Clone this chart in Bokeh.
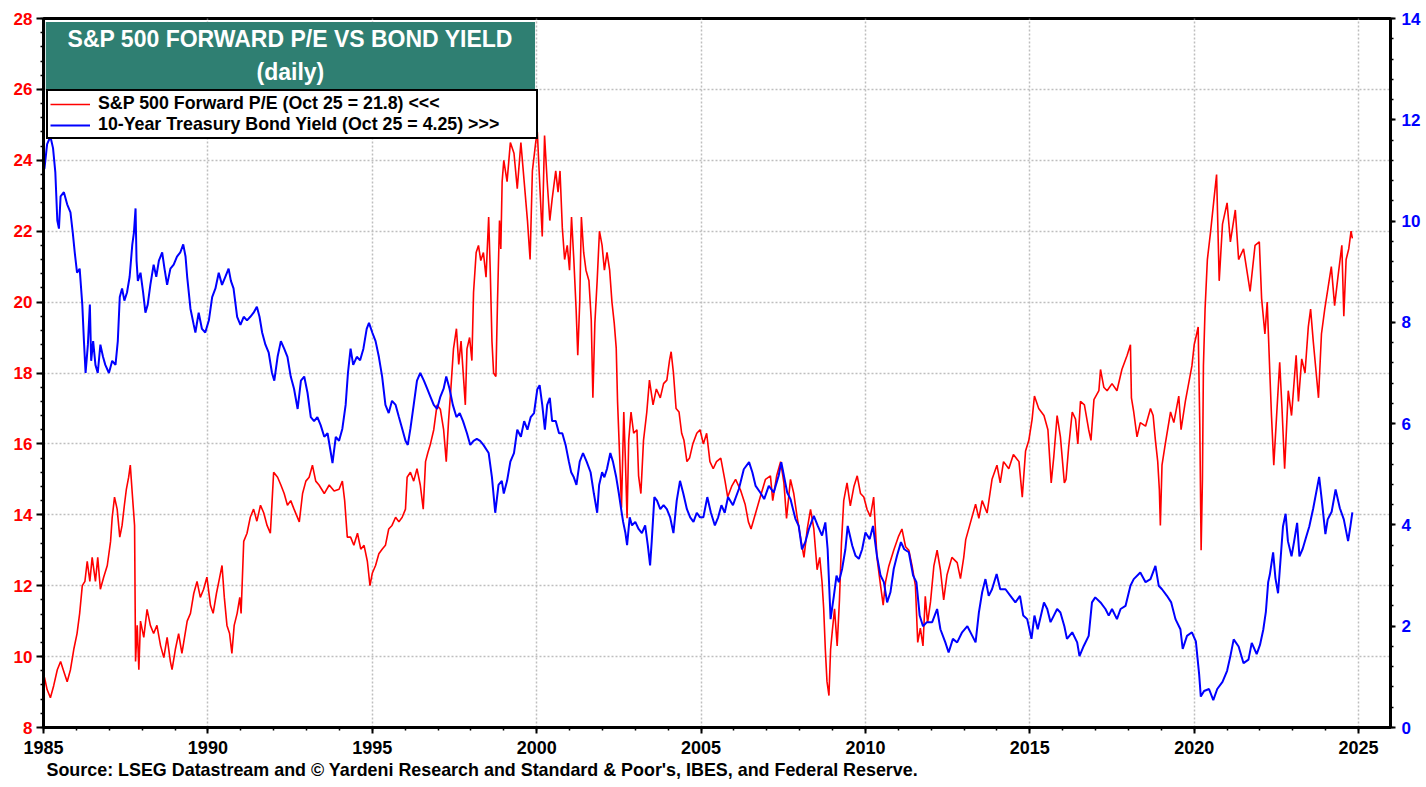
from bokeh.plotting import figure
from bokeh.models import (Range1d, LinearAxis, SingleIntervalTicker, Legend, LegendItem,
                          BoxAnnotation, Label, Title)
from bokeh.embed import file_html
from bokeh.resources import INLINE

# ---------------- data ----------------
title_line1 = "S&P 500 FORWARD P/E VS BOND YIELD"
title_line2 = "(daily)"
pe_label = "S&P 500 Forward P/E (Oct 25 = 21.8) <<<"
yld_label = "10-Year Treasury Bond Yield (Oct 25 = 4.25) >>>"
source_text = "Source: LSEG Datastream and \u00a9 Yardeni Research and Standard & Poor's, IBES, and Federal Reserve."

# S&P 500 forward P/E (left axis): (year, value)
pe_data = [
    (1985.00, 9.30), (1985.03, 9.41), (1985.11, 9.07), (1985.21, 8.84), (1985.31, 9.18), (1985.42, 9.63),
    (1985.52, 9.86), (1985.60, 9.63), (1985.72, 9.29), (1985.82, 9.63), (1985.92, 10.2), (1986.02, 10.65),
    (1986.10, 11.22), (1986.18, 12.0), (1986.26, 12.12), (1986.33, 12.69), (1986.41, 12.12), (1986.48, 12.8),
    (1986.58, 12.12), (1986.65, 12.8), (1986.73, 11.9), (1986.83, 12.24), (1986.94, 12.57), (1987.04, 13.25),
    (1987.09, 13.93), (1987.16, 14.5), (1987.24, 14.16), (1987.32, 13.37), (1987.39, 13.7), (1987.46, 14.27),
    (1987.52, 14.72), (1987.59, 15.06), (1987.64, 15.4), (1987.70, 14.6), (1987.77, 13.7), (1987.80, 9.86),
    (1987.85, 10.88), (1987.90, 9.63), (1987.95, 11.0), (1988.05, 10.54), (1988.15, 11.33), (1988.25, 10.88),
    (1988.35, 10.65), (1988.45, 10.88), (1988.56, 10.31), (1988.66, 9.97), (1988.76, 10.54), (1988.86, 9.86),
    (1988.91, 9.63), (1989.01, 10.2), (1989.11, 10.65), (1989.21, 10.09), (1989.37, 11.0), (1989.47, 11.22),
    (1989.57, 11.78), (1989.67, 12.12), (1989.77, 11.67), (1989.87, 11.9), (1989.97, 12.24), (1990.08, 11.44),
    (1990.16, 11.22), (1990.26, 11.78), (1990.36, 12.24), (1990.43, 12.57), (1990.50, 11.67), (1990.58, 10.88),
    (1990.66, 10.65), (1990.73, 10.09), (1990.80, 10.88), (1990.89, 11.22), (1990.97, 11.67), (1991.01, 11.22),
    (1991.09, 13.25), (1991.19, 13.48), (1991.29, 13.93), (1991.39, 14.16), (1991.49, 13.82), (1991.60, 14.27),
    (1991.70, 14.05), (1991.80, 13.7), (1991.90, 13.48), (1992.00, 15.2), (1992.12, 15.06), (1992.22, 14.84),
    (1992.32, 14.6), (1992.42, 14.27), (1992.52, 14.4), (1992.62, 14.16), (1992.78, 13.8), (1992.88, 14.6),
    (1992.98, 14.95), (1993.08, 15.06), (1993.18, 15.4), (1993.28, 14.95), (1993.38, 14.84), (1993.54, 14.6),
    (1993.69, 14.84), (1993.84, 14.67), (1993.99, 14.72), (1994.09, 14.95), (1994.16, 14.4), (1994.24, 13.37),
    (1994.34, 13.37), (1994.44, 13.14), (1994.55, 13.48), (1994.65, 13.03), (1994.75, 13.14), (1994.85, 12.69),
    (1994.93, 12.0), (1995.00, 12.35), (1995.10, 12.57), (1995.20, 12.9), (1995.30, 13.03), (1995.40, 13.14),
    (1995.50, 13.6), (1995.60, 13.7), (1995.71, 13.93), (1995.81, 13.8), (1995.91, 13.93), (1996.01, 14.16),
    (1996.06, 15.06), (1996.16, 15.2), (1996.26, 14.95), (1996.36, 15.3), (1996.46, 14.84), (1996.55, 14.16),
    (1996.62, 15.5), (1996.69, 15.75), (1996.77, 16.0), (1996.87, 16.4), (1996.97, 17.1), (1997.07, 16.98),
    (1997.17, 16.4), (1997.25, 15.5), (1997.32, 16.65), (1997.39, 17.55), (1997.47, 18.68), (1997.56, 19.25),
    (1997.63, 18.24), (1997.70, 18.9), (1997.78, 17.8), (1997.83, 17.1), (1997.88, 18.68), (1997.96, 19.0),
    (1998.03, 18.35), (1998.08, 20.27), (1998.16, 21.4), (1998.23, 21.6), (1998.30, 21.17), (1998.38, 21.4),
    (1998.46, 20.7), (1998.54, 22.4), (1998.59, 20.83), (1998.64, 18.9), (1998.69, 18.0), (1998.76, 17.9),
    (1998.81, 20.05), (1998.87, 22.3), (1998.91, 21.5), (1998.95, 23.4), (1999.00, 24.0), (1999.10, 23.4),
    (1999.20, 24.5), (1999.31, 24.2), (1999.41, 23.2), (1999.52, 24.5), (1999.62, 23.4), (1999.72, 22.3),
    (1999.80, 21.2), (1999.87, 23.7), (1999.97, 24.5), (2000.02, 24.8), (2000.10, 23.2), (2000.17, 21.85),
    (2000.24, 24.7), (2000.32, 23.4), (2000.40, 22.3), (2000.47, 22.9), (2000.58, 23.7), (2000.65, 23.1),
    (2000.71, 23.7), (2000.78, 22.1), (2000.85, 21.2), (2000.93, 21.6), (2001.00, 20.9), (2001.06, 22.4),
    (2001.13, 21.2), (2001.20, 19.8), (2001.25, 18.5), (2001.31, 20.0), (2001.36, 22.4), (2001.43, 21.4),
    (2001.50, 20.9), (2001.59, 20.6), (2001.66, 19.5), (2001.71, 17.3), (2001.77, 19.4), (2001.84, 20.6),
    (2001.91, 22.0), (2001.99, 21.6), (2002.06, 20.9), (2002.14, 21.4), (2002.22, 20.9), (2002.29, 20.0),
    (2002.36, 19.4), (2002.42, 18.7), (2002.46, 17.2), (2002.53, 15.5), (2002.58, 14.2), (2002.65, 16.9),
    (2002.70, 15.5), (2002.75, 13.9), (2002.80, 16.1), (2002.87, 16.9), (2002.95, 16.3), (2003.05, 16.4),
    (2003.10, 15.1), (2003.17, 14.6), (2003.25, 16.1), (2003.35, 16.9), (2003.43, 17.8), (2003.54, 17.1),
    (2003.64, 17.55), (2003.76, 17.3), (2003.86, 17.7), (2003.96, 17.8), (2004.04, 18.35), (2004.09, 18.6),
    (2004.16, 18.0), (2004.24, 17.0), (2004.33, 16.9), (2004.41, 16.3), (2004.48, 16.1), (2004.57, 15.5),
    (2004.65, 15.6), (2004.75, 16.0), (2004.87, 16.3), (2004.97, 16.4), (2005.07, 16.0), (2005.17, 16.3),
    (2005.27, 15.5), (2005.37, 15.3), (2005.47, 15.5), (2005.60, 15.6), (2005.73, 14.95), (2005.81, 14.5),
    (2005.93, 14.8), (2006.05, 15.0), (2006.20, 14.7), (2006.34, 14.3), (2006.44, 13.8), (2006.52, 13.6),
    (2006.66, 14.05), (2006.80, 14.5), (2006.96, 15.0), (2007.11, 15.1), (2007.18, 14.4), (2007.30, 15.1),
    (2007.42, 15.5), (2007.52, 14.9), (2007.60, 13.9), (2007.72, 15.0), (2007.82, 14.6), (2007.92, 13.95),
    (2008.02, 13.4), (2008.13, 12.8), (2008.23, 13.6), (2008.33, 14.15), (2008.43, 13.6), (2008.53, 12.45),
    (2008.61, 12.8), (2008.68, 12.1), (2008.73, 11.35), (2008.78, 10.2), (2008.83, 9.3), (2008.89, 8.9),
    (2008.94, 10.2), (2008.99, 10.7), (2009.06, 11.35), (2009.14, 10.3), (2009.21, 11.6), (2009.27, 13.2),
    (2009.34, 14.4), (2009.44, 14.9), (2009.54, 14.25), (2009.65, 14.8), (2009.75, 15.1), (2009.85, 14.6),
    (2009.95, 14.5), (2010.05, 14.15), (2010.15, 13.95), (2010.25, 14.5), (2010.35, 12.8), (2010.46, 12.0),
    (2010.54, 11.45), (2010.61, 12.1), (2010.71, 12.55), (2010.86, 13.0), (2011.01, 13.4), (2011.11, 13.6),
    (2011.22, 13.1), (2011.32, 13.0), (2011.42, 12.55), (2011.52, 12.0), (2011.59, 10.4), (2011.67, 10.8),
    (2011.75, 10.3), (2011.82, 11.7), (2011.89, 10.95), (2011.98, 11.55), (2012.08, 12.55), (2012.18, 13.0),
    (2012.28, 12.45), (2012.38, 11.6), (2012.48, 12.3), (2012.63, 12.8), (2012.79, 12.65), (2012.89, 12.2),
    (2012.99, 12.8), (2013.05, 13.3), (2013.20, 13.8), (2013.35, 14.3), (2013.45, 13.9), (2013.55, 14.4),
    (2013.70, 14.05), (2013.85, 15.0), (2014.00, 15.4), (2014.10, 14.9), (2014.20, 15.5), (2014.36, 15.3),
    (2014.50, 15.7), (2014.67, 15.5), (2014.77, 14.5), (2014.87, 15.8), (2014.97, 16.1), (2015.07, 16.7),
    (2015.14, 17.35), (2015.27, 17.0), (2015.43, 16.8), (2015.55, 16.4), (2015.65, 14.9), (2015.73, 15.65),
    (2015.83, 16.8), (2015.93, 16.2), (2016.05, 14.9), (2016.10, 15.0), (2016.18, 15.9), (2016.29, 16.9),
    (2016.39, 16.7), (2016.46, 16.0), (2016.54, 17.2), (2016.66, 17.1), (2016.79, 16.4), (2016.86, 16.1),
    (2016.95, 17.25), (2017.10, 17.5), (2017.15, 18.1), (2017.25, 17.6), (2017.35, 17.5), (2017.50, 17.7),
    (2017.65, 17.5), (2017.80, 18.1), (2017.96, 18.5), (2018.06, 18.8), (2018.09, 17.3), (2018.16, 16.9),
    (2018.26, 16.2), (2018.36, 16.6), (2018.52, 16.5), (2018.67, 17.0), (2018.75, 16.8), (2018.82, 16.1),
    (2018.89, 15.5), (2018.94, 14.7), (2018.97, 13.7), (2019.02, 15.4), (2019.12, 16.0), (2019.28, 16.9),
    (2019.38, 16.6), (2019.53, 17.35), (2019.60, 16.4), (2019.73, 17.2), (2019.83, 17.7), (2019.93, 18.2),
    (2020.00, 18.8), (2020.05, 19.0), (2020.12, 19.3), (2020.17, 16.5), (2020.21, 13.0), (2020.25, 15.0),
    (2020.28, 18.2), (2020.33, 19.8), (2020.40, 21.2), (2020.50, 22.0), (2020.60, 22.9), (2020.68, 23.6),
    (2020.76, 20.6), (2020.86, 22.2), (2021.00, 22.8), (2021.10, 21.7), (2021.25, 22.6), (2021.35, 21.2),
    (2021.50, 21.5), (2021.70, 20.3), (2021.85, 21.6), (2021.98, 21.7), (2022.05, 20.1), (2022.15, 19.1),
    (2022.22, 20.0), (2022.30, 18.0), (2022.35, 16.8), (2022.42, 15.4), (2022.50, 16.7), (2022.60, 18.3),
    (2022.67, 17.0), (2022.75, 15.3), (2022.86, 17.5), (2022.96, 16.8), (2023.10, 18.5), (2023.17, 17.2),
    (2023.27, 18.4), (2023.37, 18.0), (2023.47, 19.3), (2023.54, 19.8), (2023.62, 18.9), (2023.72, 17.9),
    (2023.78, 17.3), (2023.87, 19.1), (2023.97, 19.8), (2024.07, 20.4), (2024.17, 21.0), (2024.27, 19.9),
    (2024.37, 20.7), (2024.49, 21.6), (2024.55, 19.6), (2024.62, 21.2), (2024.70, 21.5), (2024.77, 22.0),
    (2024.81, 21.8),
]

# 10-year Treasury yield (right axis): (year, value)
yield_data = [
    (1985.00, 11.0), (1985.03, 11.04), (1985.11, 11.52), (1985.21, 11.67), (1985.29, 11.44), (1985.36, 10.96),
    (1985.42, 10.01), (1985.47, 9.85), (1985.52, 10.49), (1985.62, 10.57), (1985.72, 10.33), (1985.82, 10.17),
    (1985.89, 9.77), (1985.95, 9.38), (1986.02, 8.98), (1986.10, 9.06), (1986.18, 8.35), (1986.23, 7.63),
    (1986.28, 7.0), (1986.35, 7.56), (1986.41, 8.35), (1986.45, 7.24), (1986.51, 7.63), (1986.58, 7.16),
    (1986.65, 7.0), (1986.73, 7.56), (1986.81, 7.32), (1986.88, 7.16), (1986.99, 7.0), (1987.09, 7.24),
    (1987.19, 7.16), (1987.26, 7.63), (1987.32, 8.5), (1987.39, 8.67), (1987.46, 8.43), (1987.54, 8.59),
    (1987.62, 8.9), (1987.70, 9.53), (1987.75, 9.77), (1987.80, 10.25), (1987.83, 9.22), (1987.87, 8.82),
    (1987.95, 8.98), (1988.03, 8.59), (1988.10, 8.19), (1988.17, 8.35), (1988.25, 8.74), (1988.35, 9.14),
    (1988.43, 8.9), (1988.51, 9.22), (1988.61, 9.38), (1988.68, 9.06), (1988.76, 8.74), (1988.86, 9.06),
    (1988.96, 9.14), (1989.06, 9.3), (1989.16, 9.38), (1989.25, 9.54), (1989.32, 9.3), (1989.37, 8.9),
    (1989.47, 8.27), (1989.57, 7.95), (1989.62, 7.8), (1989.72, 8.19), (1989.82, 7.87), (1989.92, 7.8),
    (1990.03, 8.04), (1990.13, 8.5), (1990.23, 8.67), (1990.33, 8.98), (1990.43, 8.74), (1990.53, 8.9),
    (1990.63, 9.06), (1990.70, 8.82), (1990.78, 8.67), (1990.89, 8.11), (1990.99, 7.95), (1991.09, 8.11),
    (1991.19, 8.04), (1991.29, 8.11), (1991.39, 8.19), (1991.49, 8.31), (1991.57, 8.11), (1991.65, 7.8),
    (1991.75, 7.56), (1991.85, 7.4), (1991.95, 7.0), (1992.02, 6.85), (1992.12, 7.32), (1992.22, 7.63),
    (1992.32, 7.48), (1992.42, 7.32), (1992.52, 6.93), (1992.62, 6.69), (1992.73, 6.29), (1992.83, 6.85),
    (1992.93, 6.93), (1993.03, 6.61), (1993.13, 6.13), (1993.23, 6.05), (1993.33, 6.13), (1993.43, 5.97),
    (1993.54, 5.74), (1993.64, 5.81), (1993.74, 5.42), (1993.79, 5.22), (1993.89, 5.74), (1993.99, 5.66),
    (1994.09, 5.9), (1994.19, 6.37), (1994.26, 7.0), (1994.34, 7.48), (1994.42, 7.16), (1994.53, 7.32),
    (1994.63, 7.25), (1994.73, 7.48), (1994.83, 7.87), (1994.90, 7.99), (1995.00, 7.8), (1995.10, 7.63),
    (1995.20, 7.32), (1995.30, 6.93), (1995.40, 6.37), (1995.50, 6.21), (1995.60, 6.45), (1995.71, 6.37),
    (1995.81, 6.13), (1995.91, 5.9), (1996.01, 5.66), (1996.08, 5.58), (1996.16, 5.9), (1996.26, 6.37),
    (1996.36, 6.85), (1996.46, 7.0), (1996.57, 6.85), (1996.67, 6.69), (1996.77, 6.53), (1996.87, 6.37),
    (1996.97, 6.29), (1997.07, 6.53), (1997.17, 6.69), (1997.25, 6.93), (1997.35, 6.69), (1997.45, 6.37),
    (1997.56, 6.13), (1997.66, 6.21), (1997.76, 6.05), (1997.88, 5.81), (1997.98, 5.58), (1998.08, 5.66),
    (1998.18, 5.7), (1998.28, 5.66), (1998.38, 5.58), (1998.54, 5.42), (1998.64, 4.94), (1998.74, 4.24),
    (1998.84, 4.79), (1998.94, 4.87), (1999.00, 4.62), (1999.10, 4.87), (1999.20, 5.25), (1999.31, 5.42),
    (1999.41, 5.88), (1999.52, 5.74), (1999.62, 6.05), (1999.72, 5.88), (1999.82, 6.13), (1999.92, 6.21),
    (2000.02, 6.68), (2000.09, 6.76), (2000.17, 6.37), (2000.25, 5.88), (2000.32, 6.37), (2000.40, 6.51),
    (2000.47, 6.05), (2000.58, 6.05), (2000.68, 5.81), (2000.78, 5.81), (2000.88, 5.58), (2000.98, 5.25),
    (2001.05, 5.04), (2001.13, 4.94), (2001.21, 4.79), (2001.31, 5.25), (2001.41, 5.42), (2001.52, 5.25),
    (2001.64, 5.04), (2001.74, 4.62), (2001.84, 4.24), (2001.90, 4.79), (2001.99, 5.04), (2002.06, 4.94),
    (2002.14, 5.11), (2002.24, 5.42), (2002.32, 5.25), (2002.42, 4.94), (2002.50, 4.62), (2002.57, 4.31),
    (2002.63, 4.06), (2002.70, 3.84), (2002.75, 3.6), (2002.83, 4.15), (2002.90, 3.99), (2003.00, 4.06),
    (2003.10, 3.92), (2003.20, 3.84), (2003.30, 3.99), (2003.38, 3.6), (2003.45, 3.2), (2003.50, 3.68),
    (2003.58, 4.55), (2003.66, 4.48), (2003.76, 4.31), (2003.86, 4.39), (2003.96, 4.31), (2004.06, 4.15),
    (2004.16, 3.84), (2004.26, 4.48), (2004.36, 4.87), (2004.46, 4.62), (2004.57, 4.31), (2004.67, 4.15),
    (2004.77, 4.06), (2004.87, 4.24), (2004.97, 4.15), (2005.07, 4.15), (2005.19, 4.55), (2005.30, 4.24),
    (2005.42, 3.99), (2005.52, 4.15), (2005.62, 4.39), (2005.72, 4.24), (2005.82, 4.55), (2005.97, 4.39),
    (2006.15, 4.71), (2006.30, 5.1), (2006.46, 5.24), (2006.56, 5.04), (2006.66, 4.77), (2006.80, 4.64),
    (2006.92, 4.51), (2007.06, 4.77), (2007.21, 4.64), (2007.36, 4.97), (2007.44, 5.24), (2007.52, 4.97),
    (2007.62, 4.64), (2007.72, 4.51), (2007.87, 4.12), (2007.97, 3.98), (2008.07, 3.52), (2008.17, 3.66),
    (2008.28, 3.92), (2008.43, 4.18), (2008.55, 3.98), (2008.68, 3.79), (2008.78, 4.05), (2008.85, 3.52),
    (2008.94, 2.14), (2009.04, 2.6), (2009.12, 3.0), (2009.19, 2.87), (2009.29, 3.13), (2009.39, 3.52),
    (2009.46, 3.98), (2009.60, 3.59), (2009.70, 3.39), (2009.80, 3.33), (2009.90, 3.52), (2010.00, 3.85),
    (2010.13, 3.72), (2010.23, 3.98), (2010.35, 3.39), (2010.46, 3.0), (2010.56, 2.87), (2010.66, 2.47),
    (2010.76, 2.67), (2010.86, 3.13), (2010.96, 3.39), (2011.08, 3.66), (2011.18, 3.52), (2011.32, 3.46),
    (2011.45, 3.0), (2011.55, 2.87), (2011.65, 2.21), (2011.75, 2.0), (2011.87, 2.08), (2012.03, 2.08),
    (2012.18, 2.34), (2012.28, 1.94), (2012.43, 1.68), (2012.53, 1.48), (2012.66, 1.75), (2012.79, 1.68),
    (2012.94, 1.88), (2013.10, 2.0), (2013.25, 1.81), (2013.35, 1.68), (2013.45, 2.27), (2013.55, 2.67),
    (2013.65, 2.93), (2013.75, 2.6), (2013.85, 2.73), (2013.99, 3.03), (2014.10, 2.73), (2014.26, 2.73),
    (2014.41, 2.6), (2014.56, 2.47), (2014.70, 2.6), (2014.80, 2.21), (2014.92, 2.14), (2015.05, 1.75),
    (2015.14, 2.21), (2015.24, 1.94), (2015.43, 2.47), (2015.53, 2.34), (2015.63, 2.08), (2015.73, 2.21),
    (2015.83, 2.34), (2015.93, 2.27), (2016.05, 2.0), (2016.13, 1.75), (2016.29, 1.88), (2016.44, 1.68),
    (2016.51, 1.41), (2016.64, 1.61), (2016.79, 1.81), (2016.89, 2.47), (2016.99, 2.57), (2017.15, 2.47),
    (2017.30, 2.34), (2017.40, 2.21), (2017.50, 2.34), (2017.65, 2.14), (2017.76, 2.34), (2017.91, 2.4),
    (2018.06, 2.8), (2018.16, 2.93), (2018.36, 3.06), (2018.52, 2.87), (2018.67, 2.93), (2018.82, 3.19),
    (2018.92, 2.8), (2019.02, 2.73), (2019.17, 2.6), (2019.30, 2.47), (2019.43, 2.14), (2019.58, 1.94),
    (2019.65, 1.55), (2019.78, 1.81), (2019.93, 1.88), (2020.05, 1.7), (2020.15, 1.05), (2020.20, 0.61),
    (2020.30, 0.72), (2020.45, 0.76), (2020.58, 0.54), (2020.70, 0.76), (2020.86, 0.9), (2021.00, 1.12),
    (2021.10, 1.41), (2021.20, 1.74), (2021.35, 1.6), (2021.50, 1.27), (2021.65, 1.34), (2021.75, 1.67),
    (2021.90, 1.45), (2022.00, 1.63), (2022.10, 1.93), (2022.18, 2.29), (2022.25, 2.87), (2022.30, 3.02),
    (2022.40, 3.46), (2022.47, 2.95), (2022.55, 2.65), (2022.60, 3.09), (2022.70, 3.97), (2022.78, 4.22),
    (2022.85, 3.68), (2022.96, 3.38), (2023.04, 3.68), (2023.13, 4.04), (2023.20, 3.38), (2023.30, 3.53),
    (2023.40, 3.75), (2023.50, 3.97), (2023.62, 4.33), (2023.80, 4.95), (2023.87, 4.55), (2023.99, 3.82),
    (2024.06, 4.11), (2024.18, 4.26), (2024.30, 4.7), (2024.43, 4.33), (2024.55, 4.11), (2024.68, 3.68),
    (2024.75, 3.97), (2024.81, 4.25),
]

pe_years = [d[0] for d in pe_data]
pe_values = [d[1] for d in pe_data]
yld_years = [d[0] for d in yield_data]
yld_values = [d[1] for d in yield_data]

FONT = "Liberation Sans"
RED = "#FF0000"
BLUE = "#0000FF"
TEAL = "#2F7F72"

p = figure(frame_width=1347, frame_height=709,
           x_range=Range1d(1985, 2025.97), y_range=Range1d(8, 28),
           output_backend="svg", toolbar_location=None,
           min_border_left=43, min_border_top=18, min_border_right=28, min_border_bottom=0,
           background_fill_color="white", border_fill_color="white")
p.extra_y_ranges = {"yld": Range1d(0, 14)}

p.outline_line_color = "black"
p.outline_line_width = 3

# axes
p.xaxis.ticker = SingleIntervalTicker(interval=5, num_minor_ticks=5)
p.yaxis.ticker = SingleIntervalTicker(interval=2, num_minor_ticks=5)
right_axis = LinearAxis(y_range_name="yld", ticker=SingleIntervalTicker(interval=2, num_minor_ticks=5))
p.add_layout(right_axis, "right")

for ax in [p.xaxis[0], p.yaxis[0], right_axis]:
    ax.axis_line_color = "black"
    ax.axis_line_width = 3
    ax.major_tick_line_color = "black"
    ax.major_tick_line_width = 2
    ax.major_tick_in = 0
    ax.major_tick_out = 6
    ax.minor_tick_line_color = "black"
    ax.minor_tick_line_width = 1.5
    ax.minor_tick_in = 0
    ax.minor_tick_out = 3
    ax.major_label_text_font = FONT
    ax.major_label_text_font_style = "bold"
    ax.major_label_text_font_size = "17px"

p.xaxis.major_label_standoff = 7
p.xaxis.major_label_text_font_size = "18px"
p.xaxis.major_label_text_color = "black"
p.yaxis[0].major_label_text_color = RED
p.yaxis[0].major_label_standoff = 4
p.yaxis[0].major_tick_out = 7
right_axis.major_label_text_color = BLUE
right_axis.major_label_standoff = 6
right_axis.major_tick_out = 5

# grid
for g in [p.xgrid[0], p.ygrid[0]]:
    g.grid_line_color = "#BEBEBE"
    g.grid_line_dash = "2 2"
    g.grid_line_width = 1.5

# lines
r_pe = p.line(pe_years, pe_values, line_color=RED, line_width=1.6)
r_yld = p.line(yld_years, yld_values, line_color=BLUE, line_width=2.0, y_range_name="yld")

# title box
p.add_layout(BoxAnnotation(left=1985.07, right=1999.95, bottom=25.99, top=27.90,
                           fill_color=TEAL, fill_alpha=1.0, line_color=None, level="overlay"))
p.add_layout(Label(x=1992.51, y=27.41, text=title_line1, text_align="center", text_baseline="middle",
                   text_color="white", text_font=FONT, text_font_style="bold", text_font_size="23px",
                   level="overlay"))
p.add_layout(Label(x=1992.51, y=26.48, text=title_line2, text_align="center", text_baseline="middle",
                   text_color="white", text_font=FONT, text_font_style="bold", text_font_size="23px",
                   level="overlay"))

# legend
legend = Legend(items=[LegendItem(label=pe_label, renderers=[r_pe]),
                       LegendItem(label=yld_label, renderers=[r_yld])],
                location=(3, 588), orientation="vertical",
                border_line_color="black", border_line_width=2, border_line_alpha=1.0,
                background_fill_color="white", background_fill_alpha=1.0,
                padding=2, spacing=0, margin=0,
                glyph_width=40, glyph_height=20, label_height=20, label_standoff=8,
                label_width=436,
                label_text_font=FONT, label_text_font_style="bold", label_text_font_size="17.8px",
                label_text_color="black", label_text_baseline="middle")
p.add_layout(legend)

# source line
p.add_layout(Title(text=source_text, align="left", offset=3, standoff=2,
                   text_font=FONT, text_font_style="bold", text_font_size="17.9px",
                   text_color="black"), "below")

open("out.html", "w").write(file_html(p, INLINE))
